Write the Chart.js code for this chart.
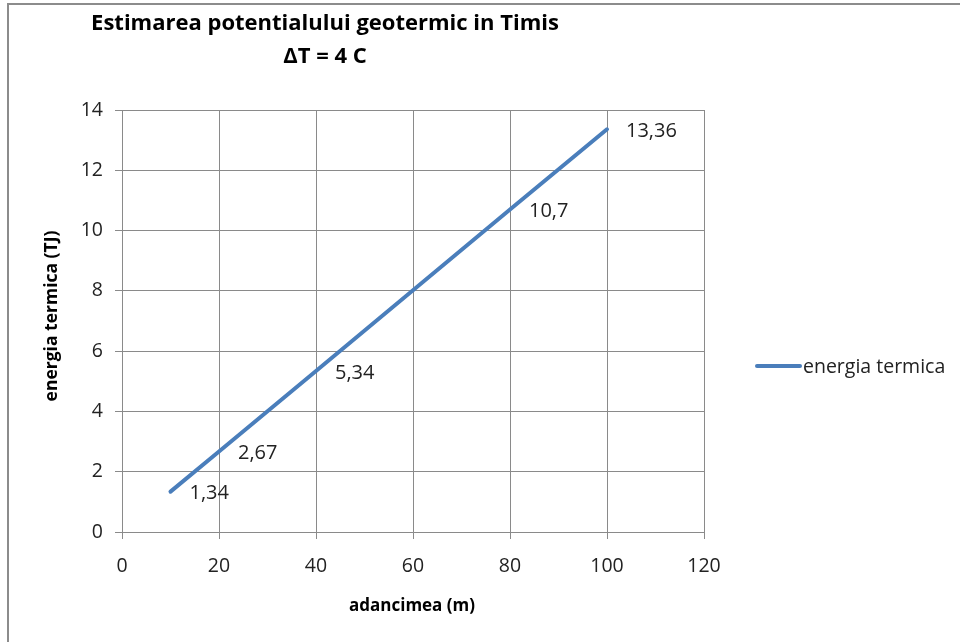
<!DOCTYPE html>
<html>
<head>
<meta charset="utf-8">
<script src="https://cdn.jsdelivr.net/npm/chart.js@4.4.1/dist/chart.umd.min.js"></script>
<style>
  html, body { margin: 0; padding: 0; background: #fff; }
  #wrap { position: relative; width: 960px; height: 642px; }
  #frame {
    position: absolute; left: 7px; top: 3px; right: 0; bottom: 0;
    border-left: 2px solid #8c8c8c; border-top: 2px solid #8c8c8c;
    pointer-events: none;
  }
  canvas { position: absolute; left: 0; top: 0; }
</style>
</head>
<body>
<div id="wrap">
  <canvas id="chart" width="960" height="642"></canvas>
  <div id="frame"></div>
</div>
<script>
// Depth (m) and thermal energy (TJ)
const depths = [10, 20, 40, 80, 100];
const energy = [1.34, 2.67, 5.34, 10.7, 13.36];
const valueLabels = ['1,34', '2,67', '5,34', '10,7', '13,36'];
const seriesName = 'energia termica';

const titleLines = ['Estimarea potentialului geotermic in Timis', '\u0394T = 4 C'];
const xTitle = 'adancimea (m)';
const yTitle = 'energia termica (TJ)';

const FONT = '"Open Sans", "Noto Sans", sans-serif';
const LINE_COLOR = '#4a7ebb';
const GRID_COLOR = '#8a8a8a';
const TEXT_COLOR = '#222';

/**
 * Titles, axis titles, value labels and legend
 */
const decorations = {
  id: 'decorations',
  afterDatasetsDraw(chart) {
    const ctx = chart.ctx;
    const x = chart.scales.x;
    const y = chart.scales.y;
    ctx.save();

    // Chart title
    ctx.fillStyle = '#000';
    ctx.textAlign = 'center';
    ctx.textBaseline = 'middle';
    ctx.font = `bold 22px ${FONT}`;
    ctx.fillText(titleLines[0], 325, 24);
    ctx.fillText(titleLines[1], 325, 57);

    // Axis titles
    ctx.font = `bold 17px ${FONT}`;
    ctx.fillText(xTitle, 412, 606);
    ctx.save();
    ctx.translate(52, 316);
    ctx.rotate(-Math.PI / 2);
    ctx.font = `bold 17.5px ${FONT}`;
    ctx.fillText(yTitle, 0, 0);
    ctx.restore();

    // Value labels to the right of each point
    ctx.fillStyle = TEXT_COLOR;
    ctx.font = `20px ${FONT}`;
    ctx.textAlign = 'left';
    depths.forEach((d, i) => {
      const px = x.getPixelForValue(d);
      const py = y.getPixelForValue(energy[i]);
      ctx.fillText(valueLabels[i], px + 19, py + 2);
    });

    // Legend
    const ly = 366;
    ctx.strokeStyle = LINE_COLOR;
    ctx.lineWidth = 4;
    ctx.lineCap = 'round';
    ctx.beginPath();
    ctx.moveTo(757, ly);
    ctx.lineTo(800, ly);
    ctx.stroke();
    ctx.font = `19.5px ${FONT}`;
    ctx.fillText(chart.data.datasets[0].label, 803, ly + 1);

    ctx.restore();
  }
};

const ctx = document.getElementById('chart').getContext('2d');
new Chart(ctx, {
  type: 'scatter',
  data: {
    datasets: [{
      label: seriesName,
      data: depths.map((d, i) => ({ x: d, y: energy[i] })),
      showLine: true,
      borderColor: LINE_COLOR,
      borderWidth: 4,
      borderCapStyle: 'round',
      pointRadius: 0,
      pointHoverRadius: 0,
      tension: 0,
    }],
  },
  options: {
    responsive: false,
    animation: false,
    events: [],
    layout: {
      padding: { left: 82, right: 256, top: 110, bottom: 60 },
    },
    plugins: {
      legend: { display: false },
      title: { display: false },
      tooltip: { enabled: false },
    },
    scales: {
      x: {
        type: 'linear',
        min: 0,
        max: 120,
        afterFit: s => { s.height = 50; },
        ticks: {
          stepSize: 20,
          color: TEXT_COLOR,
          padding: 16,
          font: { family: FONT, size: 19.5 },
        },
        grid: { color: GRID_COLOR, lineWidth: 1, tickLength: 7, drawTicks: true },
        border: { color: GRID_COLOR, width: 1 },
      },
      y: {
        type: 'linear',
        min: 0,
        max: 14,
        afterFit: s => { s.width = 40; },
        ticks: {
          stepSize: 2,
          color: TEXT_COLOR,
          padding: 12,
          font: { family: FONT, size: 19.5 },
        },
        grid: { color: GRID_COLOR, lineWidth: 1, tickLength: 7, drawTicks: true },
        border: { color: GRID_COLOR, width: 1 },
      },
    },
  },
  plugins: [decorations],
});
</script>
</body>
</html>
